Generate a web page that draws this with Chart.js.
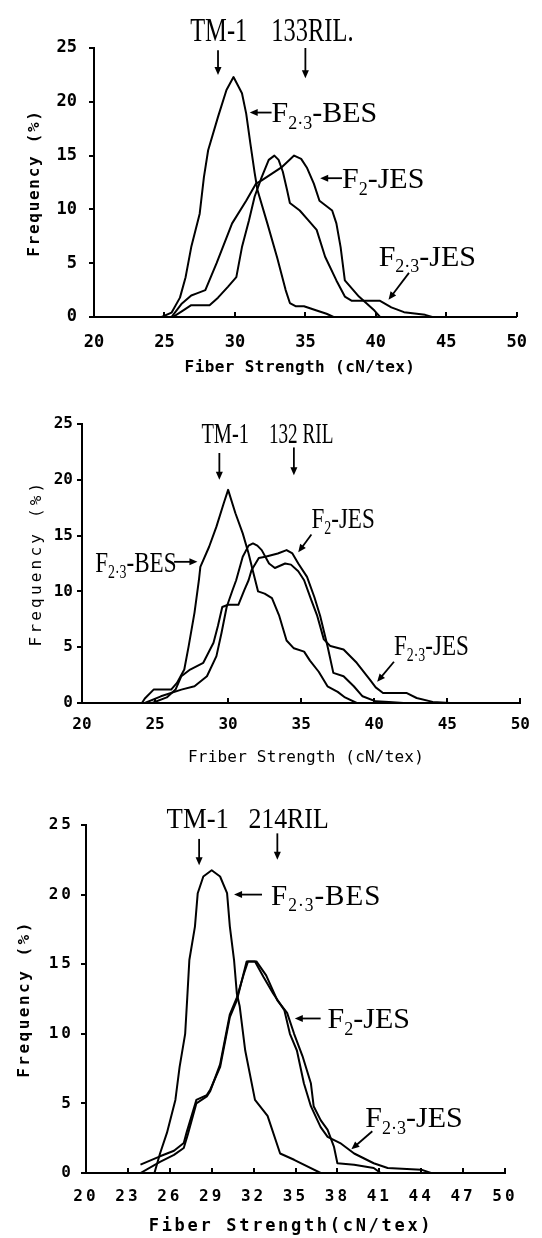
<!DOCTYPE html>
<html>
<head>
<meta charset="utf-8">
<script src="https://cdn.jsdelivr.net/npm/chart.js@4"></script>
<style>
  body { margin: 0; background: #fff; width: 542px; height: 1238px; position: relative; overflow: hidden; }
  canvas { position: absolute; left: 0; }
</style>
</head>
<body>
<canvas id="c133" width="542" height="385" style="top:0"></canvas>
<canvas id="c132" width="542" height="395" style="top:385px"></canvas>
<canvas id="c214" width="542" height="458" style="top:780px"></canvas>
<script>
// axis ticks
const freqTicks = [0, 5, 10, 15, 20, 25];
const strengthTicks5 = [20, 25, 30, 35, 40, 45, 50];
const strengthTicks3 = [20, 23, 26, 29, 32, 35, 38, 41, 44, 47, 50];

// [fiber strength cN/tex, frequency %]
const ril133Bes = [[24.8,0],[25.5,0.4],[26.1,1.8],[26.5,3.7],[26.9,6.5],[27.5,9.6],[27.8,13.0],[28.1,15.5],[28.8,18.6],[29.4,21.1],[29.9,22.3],[30.5,20.8],[30.8,18.9],[31.1,16.1],[31.4,13.4],[31.6,11.8],[32.3,8.7],[33.0,5.5],[33.6,2.5],[33.9,1.3],[34.3,1.0],[34.9,1.0],[35.8,0.6],[36.5,0.3],[37.0,0]];
const ril133F2Jes = [[25.5,0],[26.2,1.2],[26.9,2.0],[27.3,2.2],[27.9,2.5],[28.7,5.0],[29.8,8.7],[30.8,10.8],[31.5,12.4],[31.9,12.7],[32.6,13.3],[33.3,13.9],[34.2,15.0],[34.7,14.7],[35.1,13.9],[35.6,12.4],[36.0,10.8],[36.9,9.9],[37.2,8.7],[37.5,6.5],[37.8,3.4],[38.8,1.9],[39.9,0.6],[40.3,0]];
const ril133F23Jes = [[25.6,0],[26.2,0.5],[26.9,1.1],[28.2,1.1],[28.8,1.8],[29.5,2.8],[30.1,3.7],[30.5,6.5],[31.0,9.0],[31.4,11.2],[31.9,13.0],[32.4,14.6],[32.8,15.0],[33.1,14.6],[33.4,13.5],[33.7,11.8],[33.9,10.6],[34.6,9.9],[35.2,9.0],[35.8,8.1],[36.4,5.6],[37.2,3.4],[37.8,1.9],[38.3,1.5],[40.3,1.5],[41.1,0.9],[42.0,0.45],[43.5,0.2],[44.0,0]];

const ril132Bes = [[24.1,0],[24.3,0.4],[24.9,1.2],[26.1,1.2],[26.5,1.8],[27.0,3.0],[27.3,5.1],[27.7,8.1],[28.0,11.0],[28.1,12.2],[28.7,14.0],[29.2,15.8],[29.7,17.9],[30.0,19.1],[30.5,17.0],[31.0,15.2],[31.4,13.4],[31.7,11.8],[32.05,10.0],[32.5,9.8],[33.0,9.4],[33.5,7.8],[34.0,5.6],[34.5,4.9],[35.2,4.6],[35.6,3.8],[36.2,2.8],[36.8,1.5],[37.5,1.0],[38.0,0.5],[38.8,0]];
const ril132F2Jes = [[24.8,0],[25.8,0.5],[26.4,1.2],[26.8,2.4],[27.4,3.0],[28.3,3.6],[29.0,5.4],[29.3,6.9],[29.6,8.6],[30.0,8.8],[30.7,8.8],[31.1,10.1],[31.4,11.0],[31.6,11.9],[32.1,13.0],[32.55,13.1],[33.4,13.4],[34.0,13.7],[34.4,13.4],[34.8,12.5],[35.4,11.3],[35.9,9.5],[36.3,7.8],[36.8,5.1],[37.2,2.7],[37.9,2.4],[38.6,1.5],[39.2,0.6],[40.1,0.15],[41.0,0.1],[42.0,0]];
const ril132F23Jes = [[24.3,0],[25.4,0.6],[26.8,1.2],[27.7,1.5],[28.55,2.4],[29.2,4.2],[29.55,6.3],[29.9,8.6],[30.3,10.1],[30.55,11.0],[31.0,13.1],[31.4,14.1],[31.7,14.3],[32.0,14.1],[32.3,13.7],[32.8,12.5],[33.2,12.1],[33.9,12.5],[34.3,12.4],[34.8,11.8],[35.2,11.0],[35.7,9.2],[36.1,7.8],[36.55,5.7],[37.0,5.1],[37.9,4.8],[38.8,3.6],[39.7,2.1],[40.1,1.4],[40.6,0.9],[42.2,0.9],[42.9,0.45],[44.0,0.1],[45.2,0]];

const ril214Bes = [[24.9,0],[25.3,1.4],[25.8,2.9],[26.4,5.25],[26.7,7.6],[27.1,10.0],[27.25,12.6],[27.4,15.3],[27.8,17.7],[28.0,20.1],[28.4,21.3],[29.0,21.75],[29.6,21.3],[30.1,20.1],[30.3,17.7],[30.6,15.3],[30.8,12.9],[31.0,12.0],[31.4,8.8],[32.1,5.25],[33.0,4.1],[33.9,1.4],[34.9,0.95],[36.8,0]];
const ril214F2Jes = [[23.9,0],[25.3,0.8],[26.3,1.3],[27.0,1.8],[27.3,2.8],[27.9,5.0],[28.65,5.5],[28.9,5.9],[29.6,7.8],[30.3,11.4],[30.8,12.6],[31.3,14.3],[31.6,15.2],[32.2,15.2],[32.9,14.2],[33.7,12.4],[34.4,11.5],[34.9,10.0],[35.5,8.4],[36.1,6.45],[36.3,4.8],[36.8,3.8],[37.3,3.1],[37.75,1.9],[38.0,0.7],[39.2,0.6],[40.6,0.36],[41.1,0]];
const ril214F23Jes = [[23.9,0.6],[25.3,1.2],[26.3,1.6],[27.0,2.15],[27.2,2.9],[27.9,5.25],[28.65,5.6],[28.9,6.0],[29.6,7.6],[30.3,11.2],[30.8,12.4],[31.2,14.0],[31.5,15.2],[32.1,15.2],[32.7,14.1],[33.4,12.9],[34.2,11.7],[34.6,10.0],[35.1,8.8],[35.6,6.45],[36.1,4.8],[36.8,3.3],[37.3,2.6],[38.2,2.15],[39.2,1.4],[40.6,0.7],[41.6,0.36],[44.0,0.24],[44.7,0]];

const SERIF = '"Liberation Serif"';
const MONO = '"DejaVu Sans Mono"';

function arrow(ctx, x1, y1, x2, y2) {
  const a = Math.atan2(y2 - y1, x2 - x1), h = 8, w = 3.5;
  ctx.lineWidth = 1.8;
  ctx.beginPath();
  ctx.moveTo(x1, y1);
  ctx.lineTo(x2 - Math.cos(a) * h * 0.6, y2 - Math.sin(a) * h * 0.6);
  ctx.stroke();
  ctx.beginPath();
  ctx.moveTo(x2, y2);
  ctx.lineTo(x2 - h * Math.cos(a) + w * Math.sin(a), y2 - h * Math.sin(a) - w * Math.cos(a));
  ctx.lineTo(x2 - h * Math.cos(a) - w * Math.sin(a), y2 - h * Math.sin(a) + w * Math.cos(a));
  ctx.closePath();
  ctx.fill();
}

// text with {subscript} parts, anchored at cap middle
function label(ctx, l, x, y) {
  const big = l.size + 'px ' + SERIF, small = Math.round(l.size * 0.6) + 'px ' + SERIF;
  const parts = l.text.split(/[{}]/);
  ctx.save();
  ctx.letterSpacing = (l.spacing || 0) + 'px';
  ctx.textBaseline = 'alphabetic';
  ctx.textAlign = 'left';
  let w = 0;
  parts.forEach((p, i) => { ctx.font = i % 2 ? small : big; w += ctx.measureText(p).width; });
  ctx.translate(x, y);
  ctx.scale(l.sx || 1, 1);
  let cx = l.align === 'center' ? -w / 2 : 0;
  parts.forEach((p, i) => {
    ctx.font = i % 2 ? small : big;
    ctx.fillText(p, cx, i % 2 ? l.size * 0.55 : l.size * 0.33);
    cx += ctx.measureText(p).width;
  });
  ctx.restore();
}

function title(ctx, t, vertical) {
  ctx.save();
  ctx.translate(t.x, t.y);
  if (vertical) ctx.rotate(-Math.PI / 2);
  ctx.font = t.font;
  ctx.letterSpacing = t.spacing + 'px';
  ctx.textAlign = 'center';
  ctx.textBaseline = 'middle';
  ctx.fillText(t.text, 0, 0);
  ctx.restore();
}

const notes = {
  id: 'notes',
  beforeDraw(chart, args, o) {
    chart.ctx.letterSpacing = (o.tickSpacing || 0) + 'px';
  },
  afterDraw(chart, args, o) {
    const ctx = chart.ctx, area = chart.chartArea;
    const X = chart.scales.x, Y = chart.scales.y;
    const px = v => X.getPixelForValue(v), py = v => Y.getPixelForValue(v);
    ctx.save();
    ctx.letterSpacing = '0px';
    ctx.fillStyle = '#000';
    ctx.strokeStyle = '#000';
    ctx.lineWidth = 2;
    // x tick marks point up into the plot
    X.ticks.forEach(t => {
      const x = Math.round(px(t.value));
      ctx.beginPath();
      ctx.moveTo(x, area.bottom);
      ctx.lineTo(x, area.bottom - 5);
      ctx.stroke();
    });
    o.arrows.forEach(a => arrow(ctx, px(a[0]), py(a[1]), px(a[2]), py(a[3])));
    o.labels.forEach(l => label(ctx, l, px(l.at[0]), py(l.at[1])));
    title(ctx, o.yTitle, true);
    title(ctx, o.xTitle, false);
    ctx.restore();
  }
};

const pts = a => a.map(([x, y]) => ({ x, y }));

function draw(id, curves, xTicks, s) {
  new Chart(document.getElementById(id), {
    type: 'line',
    data: {
      datasets: curves.map(c => ({
        data: pts(c), borderColor: '#000', borderWidth: 2, pointRadius: 0,
        tension: 0, borderJoinStyle: 'round', fill: false
      }))
    },
    options: {
      responsive: false,
      animation: false,
      devicePixelRatio: 1,
      layout: { padding: { top: s.top, right: s.right, left: 0, bottom: 0 } },
      plugins: { legend: { display: false }, tooltip: { enabled: false }, notes: s.notes },
      scales: {
        x: {
          type: 'linear', min: xTicks[0], max: xTicks[xTicks.length - 1],
          afterBuildTicks: a => { a.ticks = xTicks.map(value => ({ value })); },
          afterFit: a => { a.height = s.xh; },
          grid: { display: false, drawTicks: false },
          border: { display: true, color: '#000', width: 2 },
          ticks: { color: '#000', font: s.tickFont, padding: s.xPad, maxRotation: 0, autoSkip: false }
        },
        y: {
          min: 0, max: 25,
          afterBuildTicks: a => { a.ticks = freqTicks.map(value => ({ value })); },
          afterFit: a => { a.width = s.left; },
          grid: { drawOnChartArea: false, drawTicks: true, tickLength: 5, color: '#000', lineWidth: 2 },
          border: { display: true, color: '#000', width: 2 },
          ticks: { color: '#000', font: s.tickFont, padding: s.yPad, autoSkip: false }
        }
      }
    },
    plugins: [notes]
  });
}

draw('c133', [ril133Bes, ril133F2Jes, ril133F23Jes], strengthTicks5, {
  left: 94, right: 11, top: 48, xh: 68, xPad: 15, yPad: 12,
  tickFont: { family: 'DejaVu Sans Mono', size: 17, weight: 'bold' },
  notes: {
    tickSpacing: 0,
    labels: [
      { text: 'TM-1', at: [28.85, 26.7], size: 34, sx: 0.72, align: 'center' },
      { text: '133RIL.', at: [35.5, 26.7], size: 34, sx: 0.72, align: 'center' },
      { text: 'F{2·3}-BES', at: [32.6, 19.0], size: 30 },
      { text: 'F{2}-JES', at: [37.6, 12.9], size: 30 },
      { text: 'F{2·3}-JES', at: [40.2, 5.7], size: 30 }
    ],
    arrows: [[28.8, 24.8, 28.8, 22.5], [35.0, 25.0, 35.0, 22.2], [32.6, 19.0, 31.05, 19.0],
             [37.6, 12.9, 36.05, 12.9], [42.35, 4.1, 40.9, 1.6]],
    yTitle: { text: 'Frequency (%)', x: 35, y: 183, font: 'bold 16px ' + MONO, spacing: 1.7 },
    xTitle: { text: 'Fiber Strength (cN/tex)', x: 300, y: 368, font: 'bold 16px ' + MONO, spacing: 0.4 }
  }
});

draw('c132', [ril132Bes, ril132F2Jes, ril132F23Jes], strengthTicks5, {
  left: 82, right: 9, top: 39, xh: 77, xPad: 12, yPad: 4,
  tickFont: { family: 'DejaVu Sans Mono', size: 16, weight: 'bold' },
  notes: {
    tickSpacing: 0,
    labels: [
      { text: 'TM-1', at: [29.8, 24.2], size: 30, sx: 0.68, align: 'center' },
      { text: '132 RIL', at: [35.0, 24.2], size: 30, sx: 0.64, align: 'center' },
      { text: 'F{2}-JES', at: [35.7, 16.6], size: 30, sx: 0.77 },
      { text: 'F{2·3}-BES', at: [20.9, 12.65], size: 30, sx: 0.77 },
      { text: 'F{2·3}-JES', at: [41.35, 5.2], size: 30, sx: 0.77 }
    ],
    arrows: [[29.4, 22.4, 29.4, 20.0], [34.5, 22.9, 34.5, 20.4], [35.7, 15.1, 34.8, 13.5],
             [26.3, 12.65, 27.9, 12.65], [41.35, 3.7, 40.2, 1.9]],
    yTitle: { text: 'Frequency (%)', x: 36.5, y: 178, font: '16px ' + MONO, spacing: 3.2 },
    xTitle: { text: 'Friber Strength (cN/tex)', x: 306, y: 373, font: '16px ' + MONO, spacing: 0.2 }
  }
});

draw('c214', [ril214Bes, ril214F2Jes, ril214F23Jes], strengthTicks3, {
  left: 86, right: 37, top: 45, xh: 65, xPad: 14, yPad: 7,
  tickFont: { family: 'DejaVu Sans Mono', size: 16, weight: 'bold' },
  notes: {
    tickSpacing: 3,
    labels: [
      { text: 'TM-1', at: [28.0, 25.5], size: 30, sx: 0.89, align: 'center' },
      { text: '214RIL', at: [34.5, 25.5], size: 30, sx: 0.86, align: 'center' },
      { text: 'F{2·3}-BES', at: [33.25, 20.0], size: 30, sx: 0.97, spacing: 1 },
      { text: 'F{2}-JES', at: [37.3, 11.1], size: 30 },
      { text: 'F{2·3}-JES', at: [40.0, 4.0], size: 30 }
    ],
    arrows: [[28.1, 24.0, 28.1, 22.1], [33.7, 24.4, 33.7, 22.5], [32.6, 20.0, 30.6, 20.0],
             [36.8, 11.1, 34.95, 11.1], [40.5, 3.0, 39.0, 1.7]],
    yTitle: { text: 'Frequency (%)', x: 25, y: 219, font: 'bold 16px ' + MONO, spacing: 2.5 },
    xTitle: { text: 'Fiber Strength(cN/tex)', x: 291, y: 447, font: 'bold 17px ' + MONO, spacing: 2.7 }
  }
});
</script>
</body>
</html>
